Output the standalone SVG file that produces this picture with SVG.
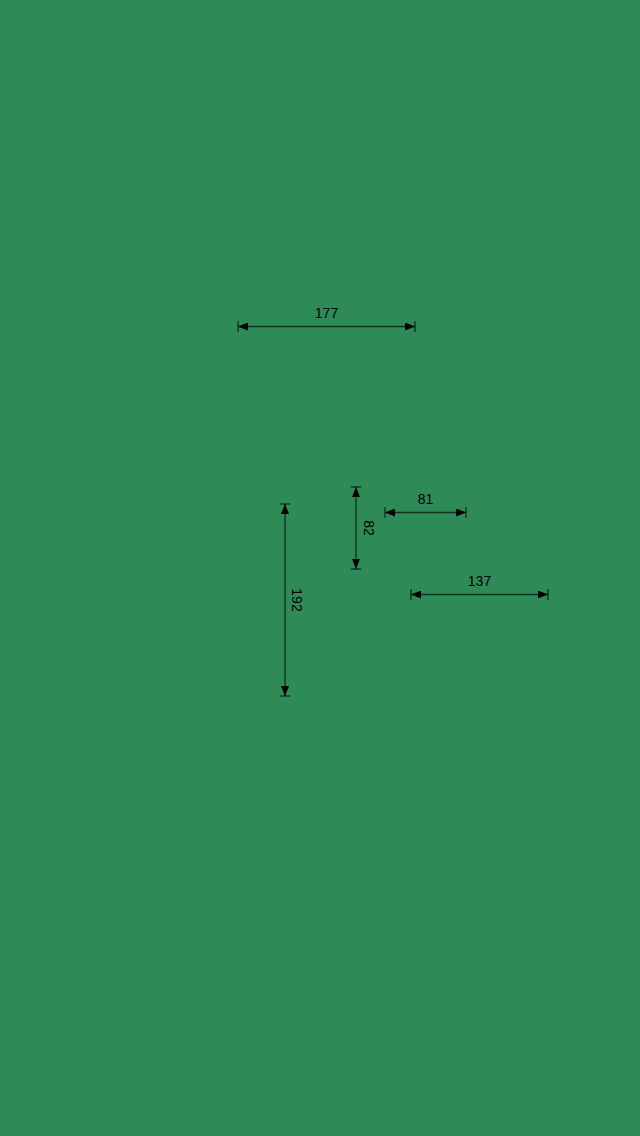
<svg xmlns="http://www.w3.org/2000/svg" width="640" height="1136" viewBox="0 0 640 1136">
<defs>
<marker id="ah" markerWidth="10" markerHeight="8" refX="10" refY="4" orient="auto-start-reverse" markerUnits="userSpaceOnUse">
<path d="M0,0 L10,4 L0,8 Z" fill="#000"/>
</marker>
<style>
.dim{stroke:#000;stroke-opacity:0.65;stroke-width:1.3;fill:none}
.ln{marker-start:url(#ah);marker-end:url(#ah)}
.t{font-family:"Liberation Sans",Arial,sans-serif;font-size:14px;fill:#000;text-anchor:middle}
</style>
</defs>
<rect width="640" height="1136" fill="#2E8B57"/>
<g id="connectors">
<g id="dim177">
<line class="dim ln" x1="238" y1="326.5" x2="415" y2="326.5"/>
<line class="dim" x1="238" y1="321" x2="238" y2="332"/>
<line class="dim" x1="415" y1="321" x2="415" y2="332"/>
<text class="t" x="326.5" y="318">177</text>
</g>
<g id="dim192">
<line class="dim ln" x1="285" y1="504" x2="285" y2="696"/>
<line class="dim" x1="279.5" y1="504" x2="290.5" y2="504"/>
<line class="dim" x1="279.5" y1="696" x2="290.5" y2="696"/>
<text class="t" transform="translate(292,600) rotate(90)" x="0" y="0">192</text>
</g>
<g id="dim82">
<line class="dim ln" x1="356" y1="487" x2="356" y2="569"/>
<line class="dim" x1="350.5" y1="487" x2="361.5" y2="487"/>
<line class="dim" x1="350.5" y1="569" x2="361.5" y2="569"/>
<text class="t" transform="translate(364,528) rotate(90)" x="0" y="0">82</text>
</g>
<g id="dim81">
<line class="dim ln" x1="385" y1="512.5" x2="466" y2="512.5"/>
<line class="dim" x1="385" y1="507" x2="385" y2="518"/>
<line class="dim" x1="466" y1="507" x2="466" y2="518"/>
<text class="t" x="425.5" y="504">81</text>
</g>
<g id="dim137">
<line class="dim ln" x1="411" y1="594.5" x2="548" y2="594.5"/>
<line class="dim" x1="411" y1="589" x2="411" y2="600"/>
<line class="dim" x1="548" y1="589" x2="548" y2="600"/>
<text class="t" x="479.5" y="586">137</text>
</g>
</g>
</svg>
